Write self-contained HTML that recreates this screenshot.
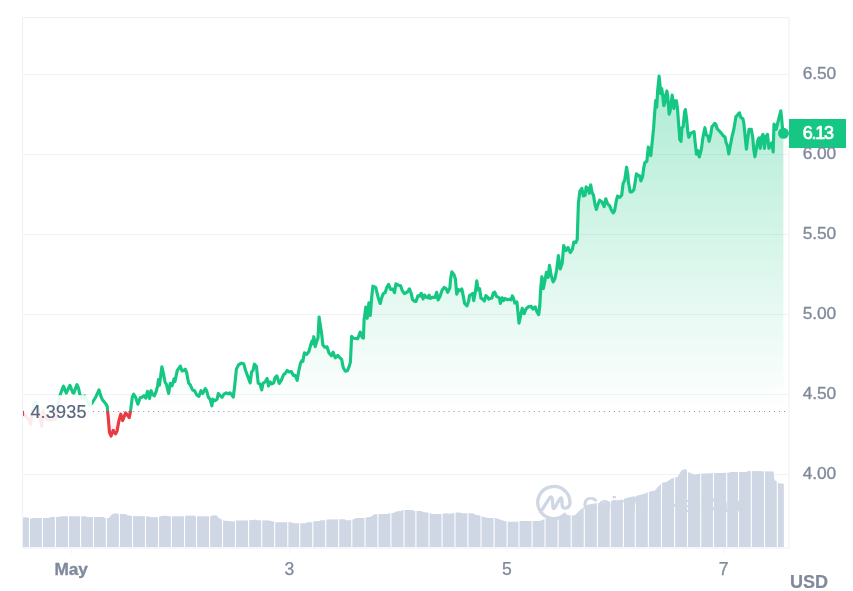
<!DOCTYPE html>
<html lang="en">
<head>
<meta charset="utf-8">
<title>Price chart</title>
<style>
html,body{margin:0;padding:0;background:#fff;}
body{width:853px;height:591px;overflow:hidden;font-family:"Liberation Sans",Arial,sans-serif;}
svg{display:block;}
</style>
</head>
<body>
<svg width="853" height="591" viewBox="0 0 853 591" role="img" aria-label="Price chart">
<defs>
<linearGradient id="gUp" gradientUnits="userSpaceOnUse" x1="0" y1="74" x2="0" y2="411.0">
<stop offset="0" stop-color="#16c784" stop-opacity="0.35"/>
<stop offset="1" stop-color="#16c784" stop-opacity="0"/>
</linearGradient>
<linearGradient id="gDn" gradientUnits="userSpaceOnUse" x1="0" y1="411.0" x2="0" y2="440">
<stop offset="0" stop-color="#ea3943" stop-opacity="0"/>
<stop offset="1" stop-color="#ea3943" stop-opacity="0.12"/>
</linearGradient>
<clipPath id="cUp"><rect x="22.9" y="0" width="766.1" height="411.0"/></clipPath>
<clipPath id="cDn"><rect x="22.9" y="411.0" width="766.1" height="200"/></clipPath>
<clipPath id="cPlot"><rect x="22" y="17" width="767" height="531"/></clipPath>
</defs>
<rect width="853" height="591" fill="#fff"/>
<line x1="22.5" x2="789" y1="74.5" y2="74.5" stroke="#465070" stroke-opacity="0.075" stroke-width="1"/>
<line x1="22.5" x2="789" y1="154.5" y2="154.5" stroke="#465070" stroke-opacity="0.075" stroke-width="1"/>
<line x1="22.5" x2="789" y1="234.5" y2="234.5" stroke="#465070" stroke-opacity="0.075" stroke-width="1"/>
<line x1="22.5" x2="789" y1="314.5" y2="314.5" stroke="#465070" stroke-opacity="0.075" stroke-width="1"/>
<line x1="22.5" x2="789" y1="394.5" y2="394.5" stroke="#465070" stroke-opacity="0.075" stroke-width="1"/>
<line x1="22.5" x2="789" y1="474.5" y2="474.5" stroke="#465070" stroke-opacity="0.075" stroke-width="1"/>
<path d="M22.5,548 V17.6 H789 V548" fill="none" stroke="#eff2f5" stroke-width="1.2"/>
<line x1="22" x2="789.6" y1="547.8" y2="547.8" stroke="#eff2f5" stroke-width="1.2"/>
<line x1="71.6" x2="71.6" y1="548" y2="553.6" stroke="#f2f4f7" stroke-width="1"/>
<line x1="289.8" x2="289.8" y1="548" y2="553.6" stroke="#f2f4f7" stroke-width="1"/>
<line x1="507.1" x2="507.1" y1="548" y2="553.6" stroke="#f2f4f7" stroke-width="1"/>
<line x1="723.6" x2="723.6" y1="548" y2="553.6" stroke="#f2f4f7" stroke-width="1"/>
<g fill="none" stroke="#cfd6e4" stroke-width="3.3" stroke-linecap="round" stroke-linejoin="round">
<path d="M540.7,511.8 L549.2,498.6 Q551.6,495 552.4,499.6 L552.9,506.6 Q553.3,510.6 555.4,506.8 L559.3,499.6 Q561.4,495.8 561.9,500 L562.1,504.4 Q562.3,508.4 565.4,508.2 Q569.4,507.8 569.95,503.2 A16.1,16.1 0 1 0 564.8,514.3"/>
</g>
<text x="582.4" y="511.6" font-family="'Liberation Sans', Arial, sans-serif" font-size="21.7" font-weight="700" fill="#cfd6e4">CoinMarketCap</text>
<clipPath id="cBars"><rect x="22.90" y="455" width="6.05" height="92"/><rect x="30.05" y="455" width="11.85" height="92"/><rect x="43.00" y="455" width="11.85" height="92"/><rect x="55.95" y="455" width="12.00" height="92"/><rect x="69.05" y="455" width="11.00" height="92"/><rect x="81.15" y="455" width="11.80" height="92"/><rect x="94.05" y="455" width="11.80" height="92"/><rect x="106.95" y="455" width="11.90" height="92"/><rect x="119.95" y="455" width="12.00" height="92"/><rect x="133.05" y="455" width="11.90" height="92"/><rect x="146.05" y="455" width="11.90" height="92"/><rect x="159.05" y="455" width="11.80" height="92"/><rect x="171.95" y="455" width="12.00" height="92"/><rect x="185.05" y="455" width="10.90" height="92"/><rect x="197.05" y="455" width="12.00" height="92"/><rect x="210.15" y="455" width="11.80" height="92"/><rect x="223.05" y="455" width="11.90" height="92"/><rect x="236.05" y="455" width="12.00" height="92"/><rect x="249.15" y="455" width="12.00" height="92"/><rect x="262.25" y="455" width="11.90" height="92"/><rect x="275.25" y="455" width="12.00" height="92"/><rect x="288.35" y="455" width="10.80" height="92"/><rect x="300.25" y="455" width="12.00" height="92"/><rect x="313.35" y="455" width="11.80" height="92"/><rect x="326.25" y="455" width="11.90" height="92"/><rect x="339.25" y="455" width="12.00" height="92"/><rect x="352.35" y="455" width="12.10" height="92"/><rect x="365.55" y="455" width="11.80" height="92"/><rect x="378.45" y="455" width="11.90" height="92"/><rect x="391.45" y="455" width="12.00" height="92"/><rect x="404.55" y="455" width="10.80" height="92"/><rect x="416.45" y="455" width="12.00" height="92"/><rect x="429.55" y="455" width="12.00" height="92"/><rect x="442.65" y="455" width="11.80" height="92"/><rect x="455.55" y="455" width="11.80" height="92"/><rect x="468.45" y="455" width="12.00" height="92"/><rect x="481.55" y="455" width="12.00" height="92"/><rect x="494.65" y="455" width="11.90" height="92"/><rect x="507.65" y="455" width="10.80" height="92"/><rect x="519.55" y="455" width="12.00" height="92"/><rect x="532.65" y="455" width="11.80" height="92"/><rect x="545.55" y="455" width="12.00" height="92"/><rect x="558.65" y="455" width="12.00" height="92"/><rect x="571.75" y="455" width="12.00" height="92"/><rect x="584.85" y="455" width="12.00" height="92"/><rect x="597.95" y="455" width="11.80" height="92"/><rect x="610.85" y="455" width="12.00" height="92"/><rect x="623.95" y="455" width="10.80" height="92"/><rect x="635.85" y="455" width="12.00" height="92"/><rect x="648.95" y="455" width="12.00" height="92"/><rect x="662.05" y="455" width="12.00" height="92"/><rect x="675.15" y="455" width="11.80" height="92"/><rect x="688.05" y="455" width="12.10" height="92"/><rect x="701.25" y="455" width="11.70" height="92"/><rect x="714.05" y="455" width="12.10" height="92"/><rect x="727.25" y="455" width="10.70" height="92"/><rect x="739.05" y="455" width="11.70" height="92"/><rect x="751.85" y="455" width="12.10" height="92"/><rect x="765.05" y="455" width="11.70" height="92"/><rect x="777.85" y="455" width="6.55" height="92"/></clipPath>
<g clip-path="url(#cBars)"><path d="M23.0,517.7 L25.6,517.3 L29.1,518.0 L31.2,518.7 L33.3,518.0 L48.8,518.0 L50.9,517.0 L58.6,517.0 L60.7,516.2 L85.3,516.2 L87.5,517.1 L103.6,517.1 L105.0,518.0 L108.6,518.0 L112.1,514.2 L115.6,513.3 L119.1,514.0 L125.4,514.0 L127.5,515.2 L131.8,515.9 L147.5,516.2 L150.3,516.9 L157.4,517.3 L160.2,516.3 L165.8,515.5 L167.2,516.2 L185.5,516.2 L186.9,515.2 L189.0,515.9 L190.4,515.2 L191.8,515.9 L193.2,515.2 L195.3,516.2 L210.8,516.2 L212.9,515.2 L216.4,515.2 L218.6,517.7 L221.4,519.4 L223.5,520.5 L227.7,521.1 L234.0,521.5 L236.8,520.5 L245.0,520.4 L253.3,520.1 L255.4,519.4 L257.5,520.2 L269.5,520.4 L273.0,521.5 L275.8,522.2 L291.3,522.2 L293.4,523.2 L305.3,523.2 L307.5,522.2 L312.4,522.2 L313.8,521.2 L319.4,520.9 L320.8,520.2 L325.0,520.2 L327.1,519.4 L344.7,519.2 L346.1,520.2 L351.1,520.2 L353.2,519.4 L353.4,519.1 L357.0,518.1 L364.0,518.1 L366.8,517.3 L370.3,516.9 L374.5,514.2 L387.2,514.0 L389.3,513.2 L392.1,513.2 L394.2,512.4 L397.1,511.2 L401.3,510.9 L402.7,510.1 L412.5,510.1 L414.6,510.9 L421.7,511.1 L423.1,512.2 L428.7,512.4 L431.5,514.0 L442.1,514.0 L445.6,513.2 L449.1,513.8 L453.3,513.2 L456.1,512.4 L459.7,512.4 L461.8,513.2 L467.0,513.2 L472.6,513.2 L476.1,514.9 L480.3,515.5 L483.1,516.9 L488.8,518.0 L495.8,518.0 L501.4,520.1 L507.1,521.8 L516.9,521.8 L519.7,521.1 L539.4,521.1 L542.2,520.1 L545.0,518.7 L553.5,517.7 L561.9,516.9 L564.7,513.8 L567.5,514.9 L569.2,515.2 L574.5,515.4 L576.9,513.2 L579.2,510.8 L581.6,508.7 L583.9,507.3 L588.6,504.6 L596.0,503.3 L605.0,502.2 L612.0,501.0 L621.5,499.8 L624.1,498.8 L628.3,497.4 L635.3,496.0 L643.8,493.9 L649.4,491.8 L655.0,490.4 L657.8,486.9 L662.1,482.7 L666.4,482.0 L671.7,478.5 L675.2,477.6 L677.8,476.7 L681.3,470.6 L685.7,469.1 L688.4,472.3 L694.5,474.4 L699.8,473.7 L710.3,473.2 L727.9,472.7 L731.4,472.0 L745.5,472.0 L749.0,471.1 L773.6,471.4 L774.5,480.2 L777.2,481.5 L778.0,482.9 L783.3,483.7 L783.8,483.7 L783.8,547 L23.0,547 Z" fill="#cfd6e4"/></g>
<g clip-path="url(#cUp)"><path d="M20.6,409.5 L23.2,413.4 L25.6,415.9 L29.1,419.9 L30.5,424.1 L32.6,411.4 L35.4,401.9 L37.5,405.8 L41.7,426.2 L43.1,410.0 L45.2,418.5 L48.8,419.9 L55.8,419.2 L57.9,404.4 L60.0,395.2 L63.5,386.1 L66.3,393.1 L69.9,385.4 L72.7,392.4 L73.8,393.1 L76.9,384.7 L78.3,387.5 L80.0,395.2 L82.5,398.8 L84.6,395.9 L86.7,400.2 L89.6,405.8 L92.1,403.0 L95.9,396.7 L99.0,390.0 L100.8,395.9 L101.8,398.3 L102.6,400.0 L104.9,402.8 L106.4,404.7 L107.3,406.9 L107.6,411.1 L108.1,415.9 L108.8,424.1 L109.5,432.5 L111.1,436.0 L113.2,430.4 L115.6,433.9 L117.0,431.1 L119.1,419.9 L120.8,414.2 L122.6,420.6 L124.2,416.7 L125.7,412.9 L127.5,415.2 L129.2,417.7 L130.5,411.1 L132.3,397.1 L133.7,394.2 L135.6,397.3 L137.9,404.2 L140.2,397.8 L141.9,397.3 L144.0,395.6 L145.8,398.2 L147.5,391.4 L149.6,398.5 L151.0,390.7 L152.4,394.2 L154.3,395.9 L156.2,391.4 L157.6,385.8 L158.5,379.5 L159.5,385.1 L161.9,366.8 L163.3,373.1 L165.1,382.3 L166.5,384.4 L168.6,393.5 L170.3,383.3 L172.1,385.8 L174.0,378.8 L174.9,381.6 L177.3,370.3 L180.3,366.1 L182.0,371.0 L183.4,370.7 L185.2,369.2 L186.6,372.4 L188.6,383.0 L190.4,385.1 L192.5,390.0 L194.6,390.7 L196.7,394.9 L198.9,396.3 L201.0,390.7 L202.7,393.5 L205.2,388.6 L206.6,390.7 L208.3,397.1 L210.1,399.2 L211.9,405.8 L212.9,399.2 L215.0,400.6 L217.1,399.2 L218.3,393.5 L220.0,395.6 L222.1,397.3 L223.9,394.2 L226.3,392.8 L228.4,394.0 L229.8,392.8 L231.2,394.2 L233.3,397.1 L234.7,385.8 L236.4,369.1 L238.5,364.9 L241.3,363.2 L243.7,363.7 L245.6,370.5 L247.7,376.1 L250.2,382.9 L251.6,371.9 L253.0,370.5 L254.4,364.2 L256.4,366.3 L258.2,383.2 L260.0,383.9 L261.7,389.9 L263.1,383.2 L265.2,381.7 L267.1,378.5 L268.5,386.0 L270.2,382.0 L271.9,383.9 L273.7,382.9 L275.1,377.5 L276.8,375.8 L279.3,383.4 L281.4,380.1 L283.5,374.7 L285.4,373.3 L287.1,370.5 L289.2,371.9 L291.3,371.5 L293.4,375.4 L295.2,375.4 L297.2,380.3 L298.6,371.9 L300.4,363.5 L301.8,360.6 L302.9,361.3 L304.4,352.9 L306.7,354.3 L308.9,351.5 L311.0,343.8 L312.1,340.9 L313.1,343.8 L313.8,336.7 L315.2,346.6 L316.6,341.7 L318.0,338.1 L319.1,317.0 L320.1,324.1 L321.5,332.5 L322.9,345.2 L325.0,347.3 L327.1,346.9 L329.0,352.9 L331.4,355.7 L333.1,352.2 L335.2,357.8 L337.7,355.3 L339.8,357.8 L341.6,359.2 L343.3,367.7 L345.4,371.2 L347.3,370.8 L349.2,366.3 L350.4,362.1 L351.6,336.3 L353.4,338.3 L357.7,338.8 L360.2,332.1 L362.2,337.4 L363.4,338.0 L364.1,319.7 L365.8,307.1 L367.2,318.3 L368.9,302.8 L370.3,315.5 L371.7,297.2 L372.9,286.2 L375.7,287.4 L378.1,297.2 L380.2,303.5 L381.9,297.2 L383.3,293.7 L385.1,292.7 L386.8,287.4 L388.6,284.3 L390.7,289.5 L392.8,289.0 L394.5,292.7 L395.9,283.8 L398.2,285.2 L400.6,285.7 L402.4,290.9 L404.4,293.7 L407.6,291.9 L409.4,288.8 L411.1,293.0 L412.5,299.3 L414.2,301.1 L416.0,301.4 L417.9,295.8 L419.6,296.1 L421.2,293.3 L423.1,298.9 L424.5,295.1 L426.3,297.2 L428.0,297.9 L429.1,295.1 L430.5,298.3 L432.9,297.2 L435.0,297.5 L436.7,292.3 L438.1,300.0 L440.0,296.5 L442.1,290.2 L444.2,287.4 L446.0,288.5 L447.7,292.3 L449.8,288.1 L450.8,277.5 L451.9,271.9 L454.0,274.7 L455.4,278.9 L456.7,294.2 L458.5,289.7 L460.2,290.7 L461.8,288.9 L463.2,295.6 L464.6,303.4 L467.0,305.8 L468.6,301.3 L469.5,295.6 L471.6,294.2 L472.6,293.5 L473.7,300.6 L475.4,291.4 L476.8,280.9 L478.2,290.0 L479.6,288.6 L481.0,298.2 L482.7,299.2 L484.3,301.0 L485.9,295.6 L487.6,297.1 L488.8,299.2 L490.5,298.2 L491.9,298.2 L493.3,292.8 L494.7,292.1 L496.5,296.3 L499.3,297.8 L500.4,303.4 L502.1,297.8 L503.5,300.6 L504.9,298.5 L507.1,299.6 L509.2,299.2 L511.0,299.9 L512.4,295.9 L513.8,299.2 L514.8,303.0 L516.9,302.0 L518.0,312.5 L519.0,323.1 L520.4,316.7 L522.2,308.3 L524.2,313.7 L526.0,309.0 L528.2,306.9 L531.0,306.2 L533.1,309.0 L535.2,306.9 L536.6,311.1 L538.7,314.6 L539.8,305.5 L540.8,287.2 L541.9,276.7 L543.3,288.6 L545.0,280.2 L546.4,272.4 L548.1,277.4 L549.5,265.4 L551.1,275.2 L553.1,281.9 L554.9,278.8 L556.6,270.3 L558.4,255.6 L560.2,268.9 L562.2,263.3 L563.7,245.6 L566.0,250.6 L568.0,247.5 L570.3,252.6 L572.5,249.0 L573.8,242.0 L575.8,242.6 L577.2,239.5 L578.4,203.0 L579.9,191.1 L581.9,188.3 L583.3,196.0 L585.1,195.3 L586.1,186.9 L587.9,188.3 L589.3,193.2 L590.7,184.8 L592.1,192.5 L593.5,195.3 L594.9,203.8 L596.3,209.4 L598.2,203.8 L599.6,200.2 L602.0,202.1 L604.1,206.6 L605.8,198.8 L607.6,203.8 L609.7,205.9 L611.4,210.1 L613.2,212.9 L614.6,210.8 L616.0,202.4 L617.5,196.0 L619.6,197.4 L621.7,195.3 L623.1,183.4 L624.5,180.6 L624.8,179.5 L626.6,167.2 L628.0,176.0 L628.3,181.3 L630.1,191.8 L631.9,191.8 L633.9,189.7 L635.3,181.3 L636.4,173.9 L638.1,175.3 L639.8,176.0 L640.9,180.9 L642.6,176.7 L643.8,167.5 L644.9,162.6 L646.9,161.2 L648.3,147.1 L649.4,148.5 L650.8,155.6 L652.2,142.2 L653.6,128.2 L655.0,108.5 L655.7,100.7 L656.7,107.1 L657.7,90.2 L659.1,76.1 L660.1,85.9 L660.7,93.7 L661.7,88.5 L662.6,94.4 L663.8,105.6 L664.9,102.8 L665.9,94.4 L666.9,90.9 L667.7,95.8 L669.1,114.1 L670.1,111.3 L671.2,102.8 L672.2,95.1 L673.0,101.4 L673.9,108.5 L675.0,100.7 L676.4,100.7 L677.5,108.5 L678.5,122.5 L679.5,135.2 L679.7,139.4 L681.0,141.5 L682.0,127.6 L683.2,126.7 L684.1,116.9 L684.7,111.5 L685.4,109.6 L686.7,119.7 L687.7,130.9 L688.8,137.3 L690.9,133.1 L694.1,131.7 L695.1,142.2 L696.5,154.2 L697.9,150.6 L699.3,157.0 L701.4,149.1 L703.1,136.4 L704.9,127.7 L706.3,135.0 L707.7,135.7 L709.1,141.3 L710.6,135.0 L712.0,126.6 L713.4,125.2 L714.8,123.3 L716.2,125.2 L717.2,128.7 L721.1,132.9 L723.2,135.7 L725.0,137.1 L726.0,142.3 L727.4,145.6 L728.8,154.0 L730.2,146.3 L732.1,136.4 L733.8,129.4 L734.9,123.1 L735.9,116.7 L737.3,115.3 L739.4,112.8 L740.8,117.4 L742.9,118.8 L743.9,123.8 L745.0,135.0 L746.4,149.1 L747.8,137.8 L749.0,129.4 L751.3,129.4 L752.8,137.8 L753.7,149.1 L754.9,156.8 L756.3,149.1 L757.7,140.6 L759.1,137.8 L760.2,148.4 L761.6,137.1 L763.0,134.3 L764.4,148.4 L766.1,136.4 L767.5,134.3 L768.9,148.4 L770.3,145.6 L771.7,142.8 L773.2,151.9 L774.0,124.0 L775.0,126.9 L776.1,129.4 L777.5,123.8 L779.2,117.0 L780.8,110.8 L781.5,116.7 L782.2,125.2 L782.7,130.1 L783.4,132.9 L783.4,411.0 L20.6,411.0 Z" fill="url(#gUp)"/></g>
<g clip-path="url(#cDn)"><path d="M20.6,409.5 L23.2,413.4 L25.6,415.9 L29.1,419.9 L30.5,424.1 L32.6,411.4 L35.4,401.9 L37.5,405.8 L41.7,426.2 L43.1,410.0 L45.2,418.5 L48.8,419.9 L55.8,419.2 L57.9,404.4 L60.0,395.2 L63.5,386.1 L66.3,393.1 L69.9,385.4 L72.7,392.4 L73.8,393.1 L76.9,384.7 L78.3,387.5 L80.0,395.2 L82.5,398.8 L84.6,395.9 L86.7,400.2 L89.6,405.8 L92.1,403.0 L95.9,396.7 L99.0,390.0 L100.8,395.9 L101.8,398.3 L102.6,400.0 L104.9,402.8 L106.4,404.7 L107.3,406.9 L107.6,411.1 L108.1,415.9 L108.8,424.1 L109.5,432.5 L111.1,436.0 L113.2,430.4 L115.6,433.9 L117.0,431.1 L119.1,419.9 L120.8,414.2 L122.6,420.6 L124.2,416.7 L125.7,412.9 L127.5,415.2 L129.2,417.7 L130.5,411.1 L132.3,397.1 L133.7,394.2 L135.6,397.3 L137.9,404.2 L140.2,397.8 L141.9,397.3 L144.0,395.6 L145.8,398.2 L147.5,391.4 L149.6,398.5 L151.0,390.7 L152.4,394.2 L154.3,395.9 L156.2,391.4 L157.6,385.8 L158.5,379.5 L159.5,385.1 L161.9,366.8 L163.3,373.1 L165.1,382.3 L166.5,384.4 L168.6,393.5 L170.3,383.3 L172.1,385.8 L174.0,378.8 L174.9,381.6 L177.3,370.3 L180.3,366.1 L182.0,371.0 L183.4,370.7 L185.2,369.2 L186.6,372.4 L188.6,383.0 L190.4,385.1 L192.5,390.0 L194.6,390.7 L196.7,394.9 L198.9,396.3 L201.0,390.7 L202.7,393.5 L205.2,388.6 L206.6,390.7 L208.3,397.1 L210.1,399.2 L211.9,405.8 L212.9,399.2 L215.0,400.6 L217.1,399.2 L218.3,393.5 L220.0,395.6 L222.1,397.3 L223.9,394.2 L226.3,392.8 L228.4,394.0 L229.8,392.8 L231.2,394.2 L233.3,397.1 L234.7,385.8 L236.4,369.1 L238.5,364.9 L241.3,363.2 L243.7,363.7 L245.6,370.5 L247.7,376.1 L250.2,382.9 L251.6,371.9 L253.0,370.5 L254.4,364.2 L256.4,366.3 L258.2,383.2 L260.0,383.9 L261.7,389.9 L263.1,383.2 L265.2,381.7 L267.1,378.5 L268.5,386.0 L270.2,382.0 L271.9,383.9 L273.7,382.9 L275.1,377.5 L276.8,375.8 L279.3,383.4 L281.4,380.1 L283.5,374.7 L285.4,373.3 L287.1,370.5 L289.2,371.9 L291.3,371.5 L293.4,375.4 L295.2,375.4 L297.2,380.3 L298.6,371.9 L300.4,363.5 L301.8,360.6 L302.9,361.3 L304.4,352.9 L306.7,354.3 L308.9,351.5 L311.0,343.8 L312.1,340.9 L313.1,343.8 L313.8,336.7 L315.2,346.6 L316.6,341.7 L318.0,338.1 L319.1,317.0 L320.1,324.1 L321.5,332.5 L322.9,345.2 L325.0,347.3 L327.1,346.9 L329.0,352.9 L331.4,355.7 L333.1,352.2 L335.2,357.8 L337.7,355.3 L339.8,357.8 L341.6,359.2 L343.3,367.7 L345.4,371.2 L347.3,370.8 L349.2,366.3 L350.4,362.1 L351.6,336.3 L353.4,338.3 L357.7,338.8 L360.2,332.1 L362.2,337.4 L363.4,338.0 L364.1,319.7 L365.8,307.1 L367.2,318.3 L368.9,302.8 L370.3,315.5 L371.7,297.2 L372.9,286.2 L375.7,287.4 L378.1,297.2 L380.2,303.5 L381.9,297.2 L383.3,293.7 L385.1,292.7 L386.8,287.4 L388.6,284.3 L390.7,289.5 L392.8,289.0 L394.5,292.7 L395.9,283.8 L398.2,285.2 L400.6,285.7 L402.4,290.9 L404.4,293.7 L407.6,291.9 L409.4,288.8 L411.1,293.0 L412.5,299.3 L414.2,301.1 L416.0,301.4 L417.9,295.8 L419.6,296.1 L421.2,293.3 L423.1,298.9 L424.5,295.1 L426.3,297.2 L428.0,297.9 L429.1,295.1 L430.5,298.3 L432.9,297.2 L435.0,297.5 L436.7,292.3 L438.1,300.0 L440.0,296.5 L442.1,290.2 L444.2,287.4 L446.0,288.5 L447.7,292.3 L449.8,288.1 L450.8,277.5 L451.9,271.9 L454.0,274.7 L455.4,278.9 L456.7,294.2 L458.5,289.7 L460.2,290.7 L461.8,288.9 L463.2,295.6 L464.6,303.4 L467.0,305.8 L468.6,301.3 L469.5,295.6 L471.6,294.2 L472.6,293.5 L473.7,300.6 L475.4,291.4 L476.8,280.9 L478.2,290.0 L479.6,288.6 L481.0,298.2 L482.7,299.2 L484.3,301.0 L485.9,295.6 L487.6,297.1 L488.8,299.2 L490.5,298.2 L491.9,298.2 L493.3,292.8 L494.7,292.1 L496.5,296.3 L499.3,297.8 L500.4,303.4 L502.1,297.8 L503.5,300.6 L504.9,298.5 L507.1,299.6 L509.2,299.2 L511.0,299.9 L512.4,295.9 L513.8,299.2 L514.8,303.0 L516.9,302.0 L518.0,312.5 L519.0,323.1 L520.4,316.7 L522.2,308.3 L524.2,313.7 L526.0,309.0 L528.2,306.9 L531.0,306.2 L533.1,309.0 L535.2,306.9 L536.6,311.1 L538.7,314.6 L539.8,305.5 L540.8,287.2 L541.9,276.7 L543.3,288.6 L545.0,280.2 L546.4,272.4 L548.1,277.4 L549.5,265.4 L551.1,275.2 L553.1,281.9 L554.9,278.8 L556.6,270.3 L558.4,255.6 L560.2,268.9 L562.2,263.3 L563.7,245.6 L566.0,250.6 L568.0,247.5 L570.3,252.6 L572.5,249.0 L573.8,242.0 L575.8,242.6 L577.2,239.5 L578.4,203.0 L579.9,191.1 L581.9,188.3 L583.3,196.0 L585.1,195.3 L586.1,186.9 L587.9,188.3 L589.3,193.2 L590.7,184.8 L592.1,192.5 L593.5,195.3 L594.9,203.8 L596.3,209.4 L598.2,203.8 L599.6,200.2 L602.0,202.1 L604.1,206.6 L605.8,198.8 L607.6,203.8 L609.7,205.9 L611.4,210.1 L613.2,212.9 L614.6,210.8 L616.0,202.4 L617.5,196.0 L619.6,197.4 L621.7,195.3 L623.1,183.4 L624.5,180.6 L624.8,179.5 L626.6,167.2 L628.0,176.0 L628.3,181.3 L630.1,191.8 L631.9,191.8 L633.9,189.7 L635.3,181.3 L636.4,173.9 L638.1,175.3 L639.8,176.0 L640.9,180.9 L642.6,176.7 L643.8,167.5 L644.9,162.6 L646.9,161.2 L648.3,147.1 L649.4,148.5 L650.8,155.6 L652.2,142.2 L653.6,128.2 L655.0,108.5 L655.7,100.7 L656.7,107.1 L657.7,90.2 L659.1,76.1 L660.1,85.9 L660.7,93.7 L661.7,88.5 L662.6,94.4 L663.8,105.6 L664.9,102.8 L665.9,94.4 L666.9,90.9 L667.7,95.8 L669.1,114.1 L670.1,111.3 L671.2,102.8 L672.2,95.1 L673.0,101.4 L673.9,108.5 L675.0,100.7 L676.4,100.7 L677.5,108.5 L678.5,122.5 L679.5,135.2 L679.7,139.4 L681.0,141.5 L682.0,127.6 L683.2,126.7 L684.1,116.9 L684.7,111.5 L685.4,109.6 L686.7,119.7 L687.7,130.9 L688.8,137.3 L690.9,133.1 L694.1,131.7 L695.1,142.2 L696.5,154.2 L697.9,150.6 L699.3,157.0 L701.4,149.1 L703.1,136.4 L704.9,127.7 L706.3,135.0 L707.7,135.7 L709.1,141.3 L710.6,135.0 L712.0,126.6 L713.4,125.2 L714.8,123.3 L716.2,125.2 L717.2,128.7 L721.1,132.9 L723.2,135.7 L725.0,137.1 L726.0,142.3 L727.4,145.6 L728.8,154.0 L730.2,146.3 L732.1,136.4 L733.8,129.4 L734.9,123.1 L735.9,116.7 L737.3,115.3 L739.4,112.8 L740.8,117.4 L742.9,118.8 L743.9,123.8 L745.0,135.0 L746.4,149.1 L747.8,137.8 L749.0,129.4 L751.3,129.4 L752.8,137.8 L753.7,149.1 L754.9,156.8 L756.3,149.1 L757.7,140.6 L759.1,137.8 L760.2,148.4 L761.6,137.1 L763.0,134.3 L764.4,148.4 L766.1,136.4 L767.5,134.3 L768.9,148.4 L770.3,145.6 L771.7,142.8 L773.2,151.9 L774.0,124.0 L775.0,126.9 L776.1,129.4 L777.5,123.8 L779.2,117.0 L780.8,110.8 L781.5,116.7 L782.2,125.2 L782.7,130.1 L783.4,132.9 L783.4,411.0 L20.6,411.0 Z" fill="url(#gDn)"/></g>
<line x1="23.05" x2="786" y1="411.5" y2="411.5" stroke="#8a8f9d" stroke-width="1" stroke-dasharray="1 4.0065"/>
<g clip-path="url(#cUp)"><path d="M20.6,409.5 L23.2,413.4 L25.6,415.9 L29.1,419.9 L30.5,424.1 L32.6,411.4 L35.4,401.9 L37.5,405.8 L41.7,426.2 L43.1,410.0 L45.2,418.5 L48.8,419.9 L55.8,419.2 L57.9,404.4 L60.0,395.2 L63.5,386.1 L66.3,393.1 L69.9,385.4 L72.7,392.4 L73.8,393.1 L76.9,384.7 L78.3,387.5 L80.0,395.2 L82.5,398.8 L84.6,395.9 L86.7,400.2 L89.6,405.8 L92.1,403.0 L95.9,396.7 L99.0,390.0 L100.8,395.9 L101.8,398.3 L102.6,400.0 L104.9,402.8 L106.4,404.7 L107.3,406.9 L107.6,411.1 L108.1,415.9 L108.8,424.1 L109.5,432.5 L111.1,436.0 L113.2,430.4 L115.6,433.9 L117.0,431.1 L119.1,419.9 L120.8,414.2 L122.6,420.6 L124.2,416.7 L125.7,412.9 L127.5,415.2 L129.2,417.7 L130.5,411.1 L132.3,397.1 L133.7,394.2 L135.6,397.3 L137.9,404.2 L140.2,397.8 L141.9,397.3 L144.0,395.6 L145.8,398.2 L147.5,391.4 L149.6,398.5 L151.0,390.7 L152.4,394.2 L154.3,395.9 L156.2,391.4 L157.6,385.8 L158.5,379.5 L159.5,385.1 L161.9,366.8 L163.3,373.1 L165.1,382.3 L166.5,384.4 L168.6,393.5 L170.3,383.3 L172.1,385.8 L174.0,378.8 L174.9,381.6 L177.3,370.3 L180.3,366.1 L182.0,371.0 L183.4,370.7 L185.2,369.2 L186.6,372.4 L188.6,383.0 L190.4,385.1 L192.5,390.0 L194.6,390.7 L196.7,394.9 L198.9,396.3 L201.0,390.7 L202.7,393.5 L205.2,388.6 L206.6,390.7 L208.3,397.1 L210.1,399.2 L211.9,405.8 L212.9,399.2 L215.0,400.6 L217.1,399.2 L218.3,393.5 L220.0,395.6 L222.1,397.3 L223.9,394.2 L226.3,392.8 L228.4,394.0 L229.8,392.8 L231.2,394.2 L233.3,397.1 L234.7,385.8 L236.4,369.1 L238.5,364.9 L241.3,363.2 L243.7,363.7 L245.6,370.5 L247.7,376.1 L250.2,382.9 L251.6,371.9 L253.0,370.5 L254.4,364.2 L256.4,366.3 L258.2,383.2 L260.0,383.9 L261.7,389.9 L263.1,383.2 L265.2,381.7 L267.1,378.5 L268.5,386.0 L270.2,382.0 L271.9,383.9 L273.7,382.9 L275.1,377.5 L276.8,375.8 L279.3,383.4 L281.4,380.1 L283.5,374.7 L285.4,373.3 L287.1,370.5 L289.2,371.9 L291.3,371.5 L293.4,375.4 L295.2,375.4 L297.2,380.3 L298.6,371.9 L300.4,363.5 L301.8,360.6 L302.9,361.3 L304.4,352.9 L306.7,354.3 L308.9,351.5 L311.0,343.8 L312.1,340.9 L313.1,343.8 L313.8,336.7 L315.2,346.6 L316.6,341.7 L318.0,338.1 L319.1,317.0 L320.1,324.1 L321.5,332.5 L322.9,345.2 L325.0,347.3 L327.1,346.9 L329.0,352.9 L331.4,355.7 L333.1,352.2 L335.2,357.8 L337.7,355.3 L339.8,357.8 L341.6,359.2 L343.3,367.7 L345.4,371.2 L347.3,370.8 L349.2,366.3 L350.4,362.1 L351.6,336.3 L353.4,338.3 L357.7,338.8 L360.2,332.1 L362.2,337.4 L363.4,338.0 L364.1,319.7 L365.8,307.1 L367.2,318.3 L368.9,302.8 L370.3,315.5 L371.7,297.2 L372.9,286.2 L375.7,287.4 L378.1,297.2 L380.2,303.5 L381.9,297.2 L383.3,293.7 L385.1,292.7 L386.8,287.4 L388.6,284.3 L390.7,289.5 L392.8,289.0 L394.5,292.7 L395.9,283.8 L398.2,285.2 L400.6,285.7 L402.4,290.9 L404.4,293.7 L407.6,291.9 L409.4,288.8 L411.1,293.0 L412.5,299.3 L414.2,301.1 L416.0,301.4 L417.9,295.8 L419.6,296.1 L421.2,293.3 L423.1,298.9 L424.5,295.1 L426.3,297.2 L428.0,297.9 L429.1,295.1 L430.5,298.3 L432.9,297.2 L435.0,297.5 L436.7,292.3 L438.1,300.0 L440.0,296.5 L442.1,290.2 L444.2,287.4 L446.0,288.5 L447.7,292.3 L449.8,288.1 L450.8,277.5 L451.9,271.9 L454.0,274.7 L455.4,278.9 L456.7,294.2 L458.5,289.7 L460.2,290.7 L461.8,288.9 L463.2,295.6 L464.6,303.4 L467.0,305.8 L468.6,301.3 L469.5,295.6 L471.6,294.2 L472.6,293.5 L473.7,300.6 L475.4,291.4 L476.8,280.9 L478.2,290.0 L479.6,288.6 L481.0,298.2 L482.7,299.2 L484.3,301.0 L485.9,295.6 L487.6,297.1 L488.8,299.2 L490.5,298.2 L491.9,298.2 L493.3,292.8 L494.7,292.1 L496.5,296.3 L499.3,297.8 L500.4,303.4 L502.1,297.8 L503.5,300.6 L504.9,298.5 L507.1,299.6 L509.2,299.2 L511.0,299.9 L512.4,295.9 L513.8,299.2 L514.8,303.0 L516.9,302.0 L518.0,312.5 L519.0,323.1 L520.4,316.7 L522.2,308.3 L524.2,313.7 L526.0,309.0 L528.2,306.9 L531.0,306.2 L533.1,309.0 L535.2,306.9 L536.6,311.1 L538.7,314.6 L539.8,305.5 L540.8,287.2 L541.9,276.7 L543.3,288.6 L545.0,280.2 L546.4,272.4 L548.1,277.4 L549.5,265.4 L551.1,275.2 L553.1,281.9 L554.9,278.8 L556.6,270.3 L558.4,255.6 L560.2,268.9 L562.2,263.3 L563.7,245.6 L566.0,250.6 L568.0,247.5 L570.3,252.6 L572.5,249.0 L573.8,242.0 L575.8,242.6 L577.2,239.5 L578.4,203.0 L579.9,191.1 L581.9,188.3 L583.3,196.0 L585.1,195.3 L586.1,186.9 L587.9,188.3 L589.3,193.2 L590.7,184.8 L592.1,192.5 L593.5,195.3 L594.9,203.8 L596.3,209.4 L598.2,203.8 L599.6,200.2 L602.0,202.1 L604.1,206.6 L605.8,198.8 L607.6,203.8 L609.7,205.9 L611.4,210.1 L613.2,212.9 L614.6,210.8 L616.0,202.4 L617.5,196.0 L619.6,197.4 L621.7,195.3 L623.1,183.4 L624.5,180.6 L624.8,179.5 L626.6,167.2 L628.0,176.0 L628.3,181.3 L630.1,191.8 L631.9,191.8 L633.9,189.7 L635.3,181.3 L636.4,173.9 L638.1,175.3 L639.8,176.0 L640.9,180.9 L642.6,176.7 L643.8,167.5 L644.9,162.6 L646.9,161.2 L648.3,147.1 L649.4,148.5 L650.8,155.6 L652.2,142.2 L653.6,128.2 L655.0,108.5 L655.7,100.7 L656.7,107.1 L657.7,90.2 L659.1,76.1 L660.1,85.9 L660.7,93.7 L661.7,88.5 L662.6,94.4 L663.8,105.6 L664.9,102.8 L665.9,94.4 L666.9,90.9 L667.7,95.8 L669.1,114.1 L670.1,111.3 L671.2,102.8 L672.2,95.1 L673.0,101.4 L673.9,108.5 L675.0,100.7 L676.4,100.7 L677.5,108.5 L678.5,122.5 L679.5,135.2 L679.7,139.4 L681.0,141.5 L682.0,127.6 L683.2,126.7 L684.1,116.9 L684.7,111.5 L685.4,109.6 L686.7,119.7 L687.7,130.9 L688.8,137.3 L690.9,133.1 L694.1,131.7 L695.1,142.2 L696.5,154.2 L697.9,150.6 L699.3,157.0 L701.4,149.1 L703.1,136.4 L704.9,127.7 L706.3,135.0 L707.7,135.7 L709.1,141.3 L710.6,135.0 L712.0,126.6 L713.4,125.2 L714.8,123.3 L716.2,125.2 L717.2,128.7 L721.1,132.9 L723.2,135.7 L725.0,137.1 L726.0,142.3 L727.4,145.6 L728.8,154.0 L730.2,146.3 L732.1,136.4 L733.8,129.4 L734.9,123.1 L735.9,116.7 L737.3,115.3 L739.4,112.8 L740.8,117.4 L742.9,118.8 L743.9,123.8 L745.0,135.0 L746.4,149.1 L747.8,137.8 L749.0,129.4 L751.3,129.4 L752.8,137.8 L753.7,149.1 L754.9,156.8 L756.3,149.1 L757.7,140.6 L759.1,137.8 L760.2,148.4 L761.6,137.1 L763.0,134.3 L764.4,148.4 L766.1,136.4 L767.5,134.3 L768.9,148.4 L770.3,145.6 L771.7,142.8 L773.2,151.9 L774.0,124.0 L775.0,126.9 L776.1,129.4 L777.5,123.8 L779.2,117.0 L780.8,110.8 L781.5,116.7 L782.2,125.2 L782.7,130.1 L783.4,132.9" fill="none" stroke="#16c784" stroke-width="3.15" stroke-linejoin="round" stroke-linecap="round"/></g>
<g clip-path="url(#cDn)"><path d="M20.6,409.5 L23.2,413.4 L25.6,415.9 L29.1,419.9 L30.5,424.1 L32.6,411.4 L35.4,401.9 L37.5,405.8 L41.7,426.2 L43.1,410.0 L45.2,418.5 L48.8,419.9 L55.8,419.2 L57.9,404.4 L60.0,395.2 L63.5,386.1 L66.3,393.1 L69.9,385.4 L72.7,392.4 L73.8,393.1 L76.9,384.7 L78.3,387.5 L80.0,395.2 L82.5,398.8 L84.6,395.9 L86.7,400.2 L89.6,405.8 L92.1,403.0 L95.9,396.7 L99.0,390.0 L100.8,395.9 L101.8,398.3 L102.6,400.0 L104.9,402.8 L106.4,404.7 L107.3,406.9 L107.6,411.1 L108.1,415.9 L108.8,424.1 L109.5,432.5 L111.1,436.0 L113.2,430.4 L115.6,433.9 L117.0,431.1 L119.1,419.9 L120.8,414.2 L122.6,420.6 L124.2,416.7 L125.7,412.9 L127.5,415.2 L129.2,417.7 L130.5,411.1 L132.3,397.1 L133.7,394.2 L135.6,397.3 L137.9,404.2 L140.2,397.8 L141.9,397.3 L144.0,395.6 L145.8,398.2 L147.5,391.4 L149.6,398.5 L151.0,390.7 L152.4,394.2 L154.3,395.9 L156.2,391.4 L157.6,385.8 L158.5,379.5 L159.5,385.1 L161.9,366.8 L163.3,373.1 L165.1,382.3 L166.5,384.4 L168.6,393.5 L170.3,383.3 L172.1,385.8 L174.0,378.8 L174.9,381.6 L177.3,370.3 L180.3,366.1 L182.0,371.0 L183.4,370.7 L185.2,369.2 L186.6,372.4 L188.6,383.0 L190.4,385.1 L192.5,390.0 L194.6,390.7 L196.7,394.9 L198.9,396.3 L201.0,390.7 L202.7,393.5 L205.2,388.6 L206.6,390.7 L208.3,397.1 L210.1,399.2 L211.9,405.8 L212.9,399.2 L215.0,400.6 L217.1,399.2 L218.3,393.5 L220.0,395.6 L222.1,397.3 L223.9,394.2 L226.3,392.8 L228.4,394.0 L229.8,392.8 L231.2,394.2 L233.3,397.1 L234.7,385.8 L236.4,369.1 L238.5,364.9 L241.3,363.2 L243.7,363.7 L245.6,370.5 L247.7,376.1 L250.2,382.9 L251.6,371.9 L253.0,370.5 L254.4,364.2 L256.4,366.3 L258.2,383.2 L260.0,383.9 L261.7,389.9 L263.1,383.2 L265.2,381.7 L267.1,378.5 L268.5,386.0 L270.2,382.0 L271.9,383.9 L273.7,382.9 L275.1,377.5 L276.8,375.8 L279.3,383.4 L281.4,380.1 L283.5,374.7 L285.4,373.3 L287.1,370.5 L289.2,371.9 L291.3,371.5 L293.4,375.4 L295.2,375.4 L297.2,380.3 L298.6,371.9 L300.4,363.5 L301.8,360.6 L302.9,361.3 L304.4,352.9 L306.7,354.3 L308.9,351.5 L311.0,343.8 L312.1,340.9 L313.1,343.8 L313.8,336.7 L315.2,346.6 L316.6,341.7 L318.0,338.1 L319.1,317.0 L320.1,324.1 L321.5,332.5 L322.9,345.2 L325.0,347.3 L327.1,346.9 L329.0,352.9 L331.4,355.7 L333.1,352.2 L335.2,357.8 L337.7,355.3 L339.8,357.8 L341.6,359.2 L343.3,367.7 L345.4,371.2 L347.3,370.8 L349.2,366.3 L350.4,362.1 L351.6,336.3 L353.4,338.3 L357.7,338.8 L360.2,332.1 L362.2,337.4 L363.4,338.0 L364.1,319.7 L365.8,307.1 L367.2,318.3 L368.9,302.8 L370.3,315.5 L371.7,297.2 L372.9,286.2 L375.7,287.4 L378.1,297.2 L380.2,303.5 L381.9,297.2 L383.3,293.7 L385.1,292.7 L386.8,287.4 L388.6,284.3 L390.7,289.5 L392.8,289.0 L394.5,292.7 L395.9,283.8 L398.2,285.2 L400.6,285.7 L402.4,290.9 L404.4,293.7 L407.6,291.9 L409.4,288.8 L411.1,293.0 L412.5,299.3 L414.2,301.1 L416.0,301.4 L417.9,295.8 L419.6,296.1 L421.2,293.3 L423.1,298.9 L424.5,295.1 L426.3,297.2 L428.0,297.9 L429.1,295.1 L430.5,298.3 L432.9,297.2 L435.0,297.5 L436.7,292.3 L438.1,300.0 L440.0,296.5 L442.1,290.2 L444.2,287.4 L446.0,288.5 L447.7,292.3 L449.8,288.1 L450.8,277.5 L451.9,271.9 L454.0,274.7 L455.4,278.9 L456.7,294.2 L458.5,289.7 L460.2,290.7 L461.8,288.9 L463.2,295.6 L464.6,303.4 L467.0,305.8 L468.6,301.3 L469.5,295.6 L471.6,294.2 L472.6,293.5 L473.7,300.6 L475.4,291.4 L476.8,280.9 L478.2,290.0 L479.6,288.6 L481.0,298.2 L482.7,299.2 L484.3,301.0 L485.9,295.6 L487.6,297.1 L488.8,299.2 L490.5,298.2 L491.9,298.2 L493.3,292.8 L494.7,292.1 L496.5,296.3 L499.3,297.8 L500.4,303.4 L502.1,297.8 L503.5,300.6 L504.9,298.5 L507.1,299.6 L509.2,299.2 L511.0,299.9 L512.4,295.9 L513.8,299.2 L514.8,303.0 L516.9,302.0 L518.0,312.5 L519.0,323.1 L520.4,316.7 L522.2,308.3 L524.2,313.7 L526.0,309.0 L528.2,306.9 L531.0,306.2 L533.1,309.0 L535.2,306.9 L536.6,311.1 L538.7,314.6 L539.8,305.5 L540.8,287.2 L541.9,276.7 L543.3,288.6 L545.0,280.2 L546.4,272.4 L548.1,277.4 L549.5,265.4 L551.1,275.2 L553.1,281.9 L554.9,278.8 L556.6,270.3 L558.4,255.6 L560.2,268.9 L562.2,263.3 L563.7,245.6 L566.0,250.6 L568.0,247.5 L570.3,252.6 L572.5,249.0 L573.8,242.0 L575.8,242.6 L577.2,239.5 L578.4,203.0 L579.9,191.1 L581.9,188.3 L583.3,196.0 L585.1,195.3 L586.1,186.9 L587.9,188.3 L589.3,193.2 L590.7,184.8 L592.1,192.5 L593.5,195.3 L594.9,203.8 L596.3,209.4 L598.2,203.8 L599.6,200.2 L602.0,202.1 L604.1,206.6 L605.8,198.8 L607.6,203.8 L609.7,205.9 L611.4,210.1 L613.2,212.9 L614.6,210.8 L616.0,202.4 L617.5,196.0 L619.6,197.4 L621.7,195.3 L623.1,183.4 L624.5,180.6 L624.8,179.5 L626.6,167.2 L628.0,176.0 L628.3,181.3 L630.1,191.8 L631.9,191.8 L633.9,189.7 L635.3,181.3 L636.4,173.9 L638.1,175.3 L639.8,176.0 L640.9,180.9 L642.6,176.7 L643.8,167.5 L644.9,162.6 L646.9,161.2 L648.3,147.1 L649.4,148.5 L650.8,155.6 L652.2,142.2 L653.6,128.2 L655.0,108.5 L655.7,100.7 L656.7,107.1 L657.7,90.2 L659.1,76.1 L660.1,85.9 L660.7,93.7 L661.7,88.5 L662.6,94.4 L663.8,105.6 L664.9,102.8 L665.9,94.4 L666.9,90.9 L667.7,95.8 L669.1,114.1 L670.1,111.3 L671.2,102.8 L672.2,95.1 L673.0,101.4 L673.9,108.5 L675.0,100.7 L676.4,100.7 L677.5,108.5 L678.5,122.5 L679.5,135.2 L679.7,139.4 L681.0,141.5 L682.0,127.6 L683.2,126.7 L684.1,116.9 L684.7,111.5 L685.4,109.6 L686.7,119.7 L687.7,130.9 L688.8,137.3 L690.9,133.1 L694.1,131.7 L695.1,142.2 L696.5,154.2 L697.9,150.6 L699.3,157.0 L701.4,149.1 L703.1,136.4 L704.9,127.7 L706.3,135.0 L707.7,135.7 L709.1,141.3 L710.6,135.0 L712.0,126.6 L713.4,125.2 L714.8,123.3 L716.2,125.2 L717.2,128.7 L721.1,132.9 L723.2,135.7 L725.0,137.1 L726.0,142.3 L727.4,145.6 L728.8,154.0 L730.2,146.3 L732.1,136.4 L733.8,129.4 L734.9,123.1 L735.9,116.7 L737.3,115.3 L739.4,112.8 L740.8,117.4 L742.9,118.8 L743.9,123.8 L745.0,135.0 L746.4,149.1 L747.8,137.8 L749.0,129.4 L751.3,129.4 L752.8,137.8 L753.7,149.1 L754.9,156.8 L756.3,149.1 L757.7,140.6 L759.1,137.8 L760.2,148.4 L761.6,137.1 L763.0,134.3 L764.4,148.4 L766.1,136.4 L767.5,134.3 L768.9,148.4 L770.3,145.6 L771.7,142.8 L773.2,151.9 L774.0,124.0 L775.0,126.9 L776.1,129.4 L777.5,123.8 L779.2,117.0 L780.8,110.8 L781.5,116.7 L782.2,125.2 L782.7,130.1 L783.4,132.9" fill="none" stroke="#ea3943" stroke-width="3.15" stroke-linejoin="round" stroke-linecap="round"/></g>
<rect x="24.1" y="395.2" width="67.8" height="34.6" fill="#fff" fill-opacity="0.9"/>
<text x="30.4" y="418.1" letter-spacing="0.22" stroke="#58667e" stroke-width="0.2" font-family="'Liberation Sans', Arial, sans-serif" font-size="18" fill="#58667e">4.3935</text>
<g clip-path="url(#cPlot)"><circle cx="783.5" cy="133.3" r="5.5" fill="#16c784"/></g>
<rect x="789" y="119" width="57" height="29" fill="#16c784"/>
<text x="817.8" y="139.3" text-anchor="middle" font-family="'Liberation Sans', Arial, sans-serif" font-size="18" letter-spacing="-1.25" fill="#fff" stroke="#fff" stroke-width="0.7" stroke-linejoin="round">6.13</text>
<text x="802.7" y="78.8" letter-spacing="-0.1" font-family="'Liberation Sans', Arial, sans-serif" font-size="17.4" fill="#808a9d" stroke="#808a9d" stroke-width="0.35">6.50</text>
<text x="802.7" y="158.8" letter-spacing="-0.1" font-family="'Liberation Sans', Arial, sans-serif" font-size="17.4" fill="#808a9d" stroke="#808a9d" stroke-width="0.35">6.00</text>
<text x="802.7" y="238.8" letter-spacing="-0.1" font-family="'Liberation Sans', Arial, sans-serif" font-size="17.4" fill="#808a9d" stroke="#808a9d" stroke-width="0.35">5.50</text>
<text x="802.7" y="318.9" letter-spacing="-0.1" font-family="'Liberation Sans', Arial, sans-serif" font-size="17.4" fill="#808a9d" stroke="#808a9d" stroke-width="0.35">5.00</text>
<text x="802.7" y="398.9" letter-spacing="-0.1" font-family="'Liberation Sans', Arial, sans-serif" font-size="17.4" fill="#808a9d" stroke="#808a9d" stroke-width="0.35">4.50</text>
<text x="802.7" y="478.9" letter-spacing="-0.1" font-family="'Liberation Sans', Arial, sans-serif" font-size="17.4" fill="#808a9d" stroke="#808a9d" stroke-width="0.35">4.00</text>
<text x="71.2" y="574.8" text-anchor="middle" font-family="'Liberation Sans', Arial, sans-serif" font-size="17.2" font-weight="700" fill="#808a9d" stroke="#808a9d" stroke-width="0.35">May</text>
<text x="289.5" y="575" text-anchor="middle" font-family="'Liberation Sans', Arial, sans-serif" font-size="17.6" fill="#808a9d" stroke="#808a9d" stroke-width="0.25">3</text>
<text x="506.9" y="575" text-anchor="middle" font-family="'Liberation Sans', Arial, sans-serif" font-size="17.6" fill="#808a9d" stroke="#808a9d" stroke-width="0.25">5</text>
<text x="723.7" y="575" text-anchor="middle" font-family="'Liberation Sans', Arial, sans-serif" font-size="17.6" fill="#808a9d" stroke="#808a9d" stroke-width="0.25">7</text>
<text x="790" y="588" font-family="'Liberation Sans', Arial, sans-serif" font-size="18" font-weight="700" fill="#808a9d" stroke="#808a9d" stroke-width="0.2">USD</text>
</svg>
</body>
</html>
